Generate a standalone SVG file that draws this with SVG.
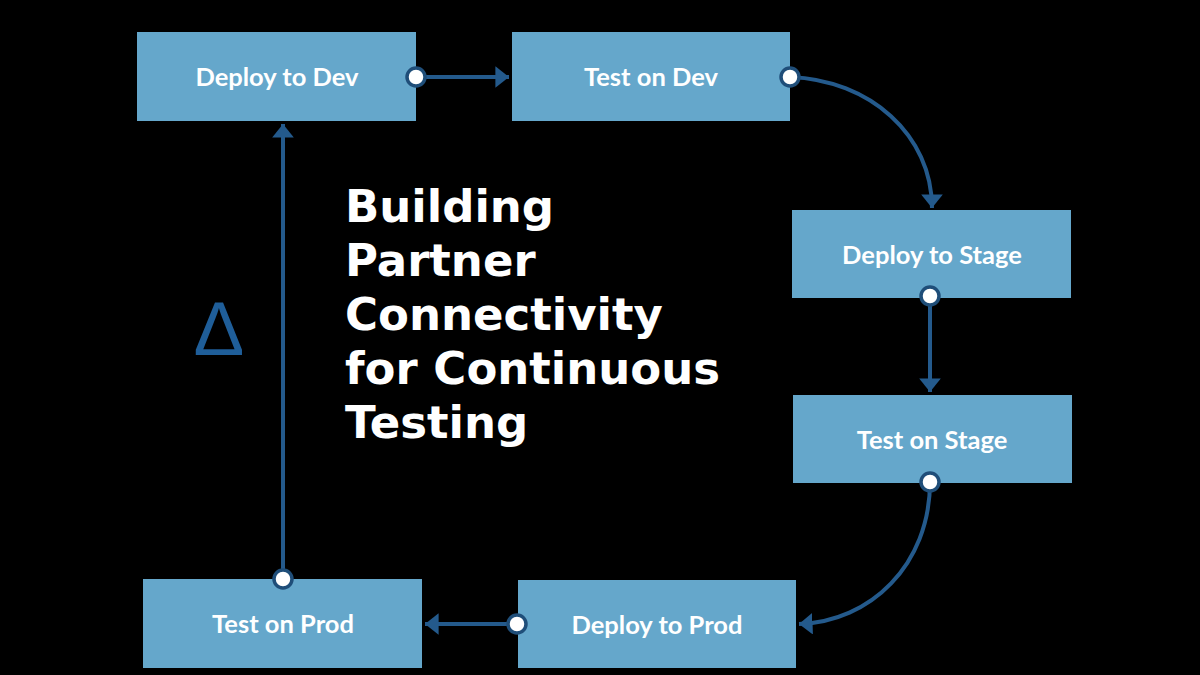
<svg xmlns="http://www.w3.org/2000/svg" width="1200" height="675" viewBox="0 0 1200 675">
<style>
.box{fill:#65A7CB}
.lbl{font-family:Lato,"Open Sans",sans-serif;font-weight:bold;font-size:25.5px;fill:#ffffff;text-anchor:middle}
.con{fill:none;stroke:#245A8C;stroke-width:4}
.dot{fill:#ffffff;stroke:#1F4E79;stroke-width:3.5}
.title{font-family:"DejaVu Sans",sans-serif;font-weight:bold;font-size:45px;fill:#ffffff}
</style>
<defs>
<marker id="ah" viewBox="0 0 10 10" refX="10" refY="5" markerWidth="3.4" markerHeight="5.4" markerUnits="strokeWidth" orient="auto" preserveAspectRatio="none">
<path d="M0,0 L10,5 L0,10 Z" fill="#245A8C"/>
</marker>
</defs>
<rect width="1200" height="675" fill="#000000"/>
<g id="connectors">
<path class="con" d="M416,77 L509,77" marker-end="url(#ah)"/>
<path class="con" d="M790,77 C870,80 932,135 932,208" marker-end="url(#ah)"/>
<path class="con" d="M930,296 L930,392" marker-end="url(#ah)"/>
<path class="con" d="M930,482 C930,565 870,622 799,624" marker-end="url(#ah)"/>
<path class="con" d="M517,624 L425,624" marker-end="url(#ah)"/>
<path class="con" d="M283,579 L283,124" marker-end="url(#ah)"/>
</g>
<g id="node-deploy-dev">
<rect class="box" x="137" y="32" width="279" height="89"/>
<text class="lbl" x="277" y="86">Deploy to Dev</text>
</g>
<g id="node-test-dev">
<rect class="box" x="512" y="32" width="278" height="89"/>
<text class="lbl" x="651" y="86">Test on Dev</text>
</g>
<g id="node-deploy-stage">
<rect class="box" x="792" y="210" width="279" height="88"/>
<text class="lbl" x="932" y="264">Deploy to Stage</text>
</g>
<g id="node-test-stage">
<rect class="box" x="793" y="395" width="279" height="88"/>
<text class="lbl" x="932" y="449">Test on Stage</text>
</g>
<g id="node-deploy-prod">
<rect class="box" x="518" y="580" width="278" height="88"/>
<text class="lbl" x="657" y="634">Deploy to Prod</text>
</g>
<g id="node-test-prod">
<rect class="box" x="143" y="579" width="279" height="89"/>
<text class="lbl" x="283" y="633">Test on Prod</text>
</g>
<g id="dots">
<circle class="dot" cx="416" cy="77" r="9"/>
<circle class="dot" cx="790" cy="77" r="9"/>
<circle class="dot" cx="930" cy="296" r="9"/>
<circle class="dot" cx="930" cy="482" r="9"/>
<circle class="dot" cx="517" cy="624" r="9"/>
<circle class="dot" cx="283" cy="579" r="9"/>
</g>
<text x="219" y="355" font-family="Liberation Sans,sans-serif" font-size="76" fill="#1F5E99" text-anchor="middle">Δ</text>
<g id="title">
<text class="title" x="345" y="222">Building</text>
<text class="title" x="345" y="276">Partner</text>
<text class="title" x="345" y="330">Connectivity</text>
<text class="title" x="345" y="384">for Continuous</text>
<text class="title" x="345" y="438">Testing</text>
</g>
</svg>
